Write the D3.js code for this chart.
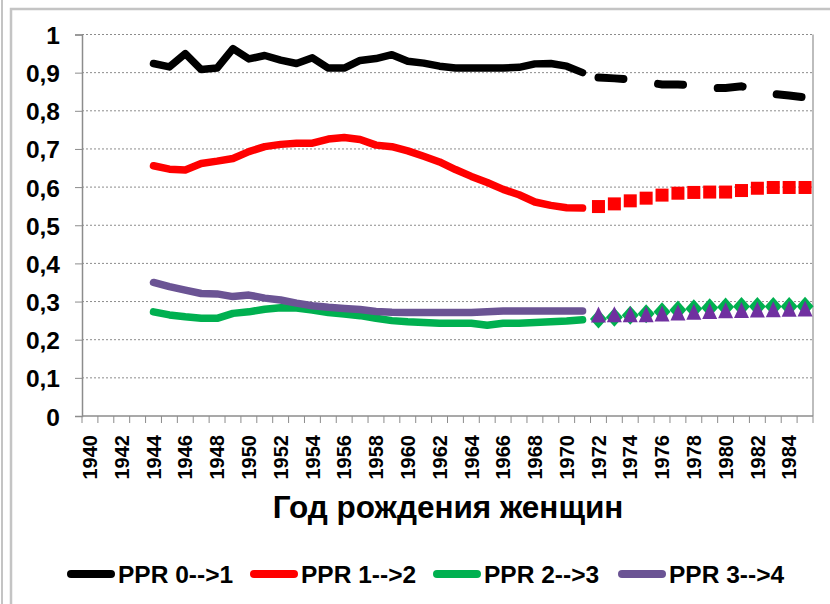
<!DOCTYPE html>
<meta charset="utf-8" />
<style>
  body {
    margin: 0;
    background: #ffffff;
    overflow: hidden;
  }
  svg {
    font-family: "Liberation Sans", Arial, sans-serif;
    font-weight: bold;
  }
</style>
<body>
  <svg id="chart"></svg>
  <script src="https://d3js.org/d3.v7.min.js"></script>
  <script>
    var width = 830,
      height = 604;

    // categories on the x axis: every birth year, labels on even years
    var years = d3.range(1940, 1986);
    var labelYears = d3.range(1940, 1985, 2);
    var yTicks = [0, 0.1, 0.2, 0.3, 0.4, 0.5, 0.6, 0.7, 0.8, 0.9, 1];
    var yTickLabels = ["0", "0,1", "0,2", "0,3", "0,4", "0,5", "0,6", "0,7", "0,8", "0,9", "1"];

    // observed part, 1944..1971
    var obsYears = d3.range(1944, 1972);
    var ppr01 = [0.924, 0.915, 0.950, 0.908, 0.912, 0.963, 0.936, 0.945, 0.933, 0.924,
      0.939, 0.912, 0.912, 0.932, 0.937, 0.947, 0.930, 0.925, 0.917, 0.912,
      0.912, 0.912, 0.912, 0.914, 0.923, 0.924, 0.917, 0.900];
    var ppr12 = [0.656, 0.647, 0.645, 0.662, 0.668, 0.675, 0.693, 0.706, 0.712, 0.715,
      0.715, 0.726, 0.730, 0.725, 0.710, 0.706, 0.695, 0.681, 0.666, 0.646,
      0.628, 0.612, 0.594, 0.580, 0.561, 0.552, 0.546, 0.545];
    var ppr23 = [0.273, 0.265, 0.260, 0.256, 0.256, 0.269, 0.273, 0.280, 0.284, 0.283,
      0.278, 0.271, 0.267, 0.263, 0.256, 0.250, 0.247, 0.245, 0.243, 0.243,
      0.243, 0.238, 0.243, 0.243, 0.245, 0.247, 0.249, 0.252];
    var ppr34 = [0.350, 0.339, 0.330, 0.321, 0.320, 0.313, 0.317, 0.309, 0.304, 0.296,
      0.289, 0.285, 0.282, 0.279, 0.274, 0.272, 0.271, 0.271, 0.271, 0.271,
      0.271, 0.273, 0.275, 0.275, 0.275, 0.275, 0.275, 0.275];

    // projected part, 1972..1985
    var projYears = d3.range(1972, 1986);
    var ppr01p = [0.887, 0.885, 0.882, 0.875, 0.869, 0.869, 0.867, 0.859, 0.860, 0.864,
      0.856, 0.844, 0.840, 0.835];
    var ppr12p = [0.549, 0.556, 0.564, 0.571, 0.579, 0.584, 0.586, 0.587, 0.587, 0.591,
      0.597, 0.599, 0.599, 0.599];
    var ppr23p = [0.254, 0.259, 0.264, 0.268, 0.273, 0.278, 0.281, 0.284, 0.286, 0.287,
      0.287, 0.287, 0.287, 0.288];
    var ppr34p = [0.266, 0.267, 0.267, 0.267, 0.269, 0.271, 0.273, 0.275, 0.277, 0.278,
      0.279, 0.280, 0.281, 0.282];

    var seriesNames = ["PPR 0-->1", "PPR 1-->2", "PPR 2-->3", "PPR 3-->4"];
    var seriesColors = ["#000000", "#ff0000", "#00b050", "#6b5494"];

    var svg = d3.select("#chart").attr("width", width).attr("height", height);

    // outer frames of the screenshot
    svg.append("line").attr("x1", 2).attr("x2", 2).attr("y1", 0).attr("y2", height)
      .style("stroke", "#c4c4c4").style("stroke-width", 2);
    svg.append("path").attr("d", "M11," + height + "V9H" + width)
      .style("fill", "none").style("stroke", "#c4c4c4").style("stroke-width", 2.5);

    var plotLeft = 82, plotRight = 813, plotTop = 34.5, plotBottom = 416;

    var x = d3.scaleBand().domain(years).range([plotLeft, plotRight]).padding(0);
    var y = d3.scaleLinear().domain([0, 1]).range([plotBottom, plotTop]);
    var cx = function(yr) { return x(yr) + x.bandwidth() / 2; };

    // dotted gridlines
    svg.append("g").selectAll("line")
      .data(yTicks.filter(d => d > 0))
      .enter().append("line")
      .attr("x1", plotLeft).attr("x2", plotRight)
      .attr("y1", d => y(d)).attr("y2", d => y(d))
      .style("stroke", "#8c8c8c").style("stroke-width", 1)
      .style("stroke-dasharray", "2,2");

    // right border of plot area
    svg.append("line").attr("x1", plotRight).attr("x2", plotRight)
      .attr("y1", plotTop).attr("y2", plotBottom)
      .style("stroke", "#bdbdbd").style("stroke-width", 2);

    // y axis
    var yAxis = d3.axisLeft(y).tickValues(yTicks).tickSize(7).tickPadding(15)
      .tickFormat((d, i) => yTickLabels[i]);
    var gy = svg.append("g").attr("transform", "translate(" + plotLeft + ",0)").call(yAxis);
    gy.select(".domain").style("stroke", "#8c8c8c").style("stroke-width", 1.5);
    gy.selectAll(".tick line").style("stroke", "#8c8c8c");
    gy.selectAll("text")
      .style("font-size", "24.5px")
      .attr("dy", null).attr("y", 9).style("fill", "#000");
    gy.attr("font-size", null).attr("font-family", null);

    // x axis: tick marks at category boundaries, labels at centres
    svg.append("line").attr("x1", plotLeft).attr("x2", plotRight)
      .attr("y1", plotBottom).attr("y2", plotBottom)
      .style("stroke", "#8c8c8c").style("stroke-width", 1.5);
    svg.append("g").selectAll("line")
      .data(years.concat([null]))
      .enter().append("line")
      .attr("x1", d => d === null ? plotRight : x(d))
      .attr("x2", d => d === null ? plotRight : x(d))
      .attr("y1", plotBottom).attr("y2", plotBottom + 7)
      .style("stroke", "#8c8c8c").style("stroke-width", 1);

    svg.append("g").selectAll("text")
      .data(labelYears)
      .enter().append("text")
      .attr("transform", d => "translate(" + cx(d) + ",435) rotate(-90)")
      .attr("text-anchor", "end")
      .attr("dy", "0.36em")
      .style("font-size", "20px")
      .text(d => d);

    svg.append("text")
      .attr("x", 448).attr("y", 518)
      .attr("text-anchor", "middle")
      .style("font-size", "31.5px")
      .text("Год рождения женщин");

    // solid observed lines
    var line = d3.line().x(d => cx(d[0])).y(d => y(d[1]));
    var observed = [ppr01, ppr12, ppr23, ppr34];
    observed.forEach(function(vals, i) {
      svg.append("path")
        .datum(obsYears.map((yr, j) => [yr, vals[j]]))
        .attr("d", line)
        .style("fill", "none")
        .style("stroke", seriesColors[i])
        .style("stroke-width", 7.5)
        .style("stroke-linejoin", "round")
        .style("stroke-linecap", "round");
    });

    // projected PPR 0-->1: long dashes
    svg.append("path")
      .datum(projYears.map((yr, j) => [yr, ppr01p[j]]))
      .attr("d", line)
      .style("fill", "none")
      .style("stroke", "#000")
      .style("stroke-width", 8)
      .style("stroke-linecap", "round")
      .style("stroke-dasharray", "25,35");

    // projected markers
    svg.append("g").selectAll("rect")
      .data(projYears.map((yr, j) => [yr, ppr12p[j]]))
      .enter().append("rect")
      .attr("x", d => cx(d[0]) - 6.5).attr("y", d => y(d[1]) - 6.5)
      .attr("width", 13).attr("height", 13)
      .style("fill", "#ff0000");

    svg.append("g").selectAll("path")
      .data(projYears.map((yr, j) => [yr, ppr23p[j]]))
      .enter().append("path")
      .attr("transform", d => "translate(" + cx(d[0]) + "," + y(d[1]) + ")")
      .attr("d", "M0,-9.5L8.5,0L0,9.5L-8.5,0Z")
      .style("fill", "#00b050");

    svg.append("g").selectAll("path")
      .data(projYears.map((yr, j) => [yr, ppr34p[j]]))
      .enter().append("path")
      .attr("transform", d => "translate(" + cx(d[0]) + "," + y(d[1]) + ")")
      .attr("d", "M0,-8L7.5,8L-7.5,8Z")
      .style("fill", "#7030a0");

    // legend
    var legendX = [67, 250, 433, 618];
    var legend = svg.append("g").selectAll("g")
      .data(seriesNames)
      .enter().append("g")
      .attr("transform", (d, i) => "translate(" + legendX[i] + ",0)");
    legend.append("line")
      .attr("x1", 4).attr("x2", 44).attr("y1", 574).attr("y2", 574)
      .style("stroke", (d, i) => seriesColors[i])
      .style("stroke-width", 8)
      .style("stroke-linecap", "round");
    legend.append("text")
      .attr("x", 51).attr("y", 583)
      .style("font-size", "24.5px")
      .text(d => d);
  </script>
</body>
